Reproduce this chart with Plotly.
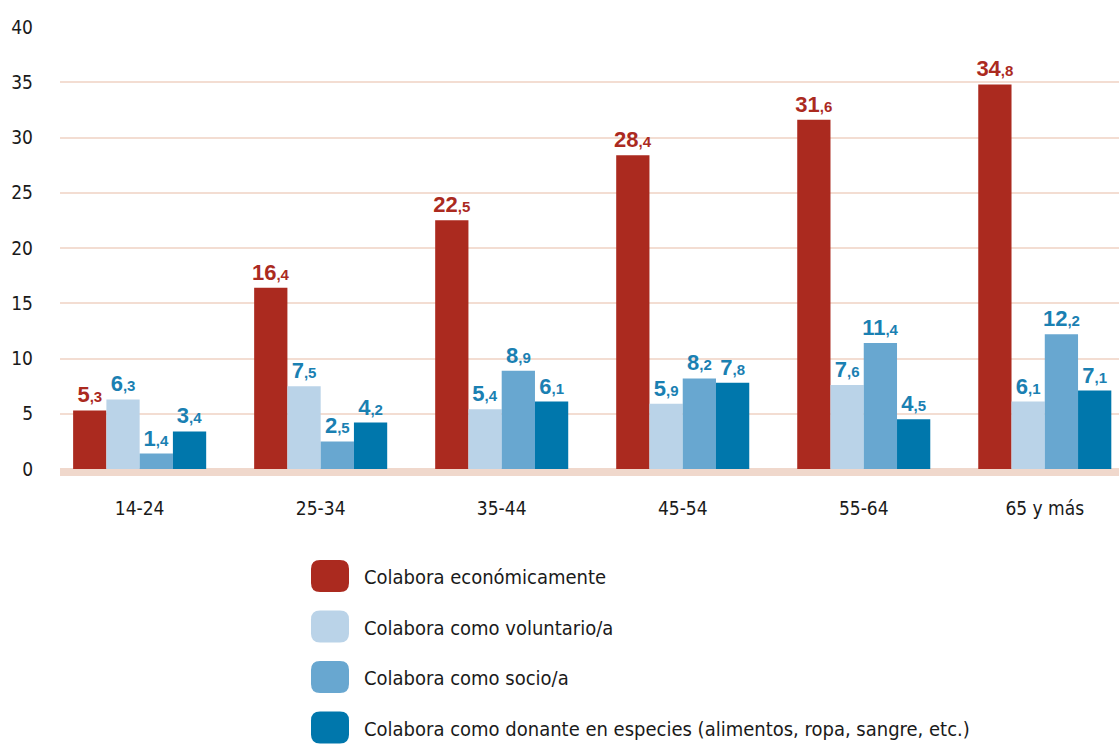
import plotly.graph_objects as go

categories = ["14-24", "25-34", "35-44", "45-54", "55-64", "65 y más"]
series_names = [
    "Colabora económicamente",
    "Colabora como voluntario/a",
    "Colabora como socio/a",
    "Colabora como donante en especies (alimentos, ropa, sangre, etc.)",
]
economico = [5.3, 16.4, 22.5, 28.4, 31.6, 34.8]
voluntario = [6.3, 7.5, 5.4, 5.9, 7.6, 6.1]
socio = [1.4, 2.5, 8.9, 8.2, 11.4, 12.2]
donante = [3.4, 4.2, 6.1, 7.8, 4.5, 7.1]
y_ticks = [0, 5, 10, 15, 20, 25, 30, 35, 40]

series_values = [economico, voluntario, socio, donante]
bar_colors = ["#ab2a1f", "#bad3e8", "#68a7d0", "#0077ac"]
label_colors = ["#ab2a1f", "#1a80b2", "#1a80b2", "#1a80b2"]

W, H = 1119, 747
ML, MR, MT, MB = 60, 0, 27, 278
PW, PH = W - ML - MR, H - MT - MB


def px_x(x):
    return (x - ML) / PW


def px_y(y):
    return (H - MB - y) / PH


def fmt(v):
    ent, dec = f"{v:.1f}".split(".")
    return f"<b>{ent}</b><b><span style='font-size:15px'>,{dec}</span></b>"


FONT = "Liberation Sans Narrow, DejaVu Sans Condensed, sans-serif"

fig = go.Figure()
for name, vals, col, lcol in zip(series_names, series_values, bar_colors, label_colors):
    fig.add_trace(go.Bar(
        x=categories, y=vals, name=name, marker=dict(color=col, line=dict(width=0)),
        text=[fmt(v) for v in vals], textposition="outside", constraintext="none",
        textfont=dict(family="Liberation Sans, Arial, sans-serif", size=22, color=lcol),
        cliponaxis=False, showlegend=False, hoverinfo="skip",
    ))

shapes = [dict(type="rect", xref="paper", yref="paper", x0=0, x1=1,
               y0=-7 / PH, y1=1 / PH, fillcolor="#f0d8cc", line=dict(width=0), layer="below")]
annotations = []
sw_w, sw_h, r = 38, 32, 9
for i, (name, col) in enumerate(zip(series_names, bar_colors)):
    cy = 576 + i * 50.5
    x0, x1 = 311, 311 + sw_w
    y0, y1 = cy - sw_h / 2, cy + sw_h / 2
    pts = (f"M {px_x(x0 + r)},{px_y(y0)} L {px_x(x1 - r)},{px_y(y0)} "
           f"Q {px_x(x1)},{px_y(y0)} {px_x(x1)},{px_y(y0 + r)} "
           f"L {px_x(x1)},{px_y(y1 - r)} Q {px_x(x1)},{px_y(y1)} {px_x(x1 - r)},{px_y(y1)} "
           f"L {px_x(x0 + r)},{px_y(y1)} Q {px_x(x0)},{px_y(y1)} {px_x(x0)},{px_y(y1 - r)} "
           f"L {px_x(x0)},{px_y(y0 + r)} Q {px_x(x0)},{px_y(y0)} {px_x(x0 + r)},{px_y(y0)} Z")
    shapes.append(dict(type="path", xref="paper", yref="paper", path=pts,
                       fillcolor=col, line=dict(width=0)))
    annotations.append(dict(xref="paper", yref="paper", x=px_x(362), y=px_y(cy + 1),
                            xanchor="left", yanchor="middle", text=name, showarrow=False,
                            font=dict(family=FONT, size=20, color="#1a1a1a")))

fig.update_layout(
    width=W, height=H, margin=dict(l=ML, r=MR, t=MT, b=MB, autoexpand=False),
    paper_bgcolor="white", plot_bgcolor="white",
    barmode="group", bargap=0.265, bargroupgap=0,
    shapes=shapes, annotations=annotations,
    xaxis=dict(range=[-0.44, 5.41], showgrid=False, zeroline=False, showline=False,
               ticks="", ticklabelstandoff=26, automargin=False,
               tickfont=dict(family=FONT, size=19, color="#1a1a1a")),
    yaxis=dict(range=[0, 40], tickvals=y_ticks, showgrid=True, gridcolor="#f3ddd2",
               gridwidth=2, zeroline=False, showline=False, ticks="",
               ticklabelstandoff=26, automargin=False,
               tickfont=dict(family=FONT, size=19, color="#1a1a1a")),
)

fig.write_html("out.html", config={"displayModeBar": False},
               post_script="document.body.style.margin='0';document.body.style.overflow='hidden';")
